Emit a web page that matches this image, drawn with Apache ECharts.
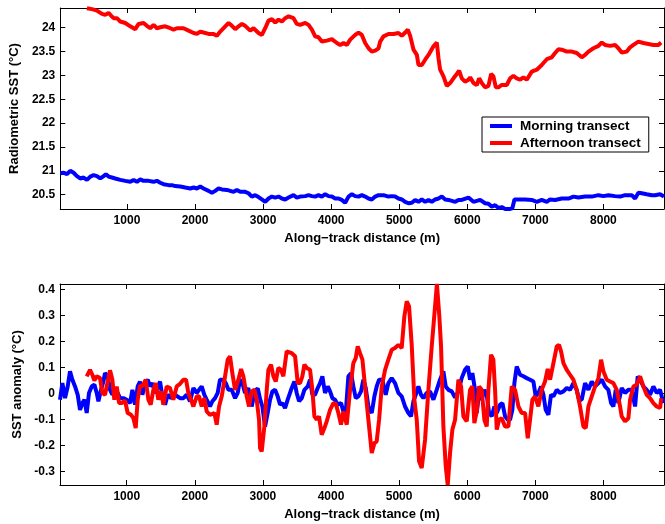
<!DOCTYPE html>
<html>
<head>
<meta charset="utf-8">
<script src="https://cdn.jsdelivr.net/npm/echarts@6/dist/echarts.min.js"></script>
<style>
html,body{margin:0;padding:0;background:#fff;}
#chart{width:665px;height:524px;}
</style>
</head>
<body>
<div id="chart"></div>
<script>
// ---------- tick labels ----------
const xTicks = [1000, 2000, 3000, 4000, 5000, 6000, 7000, 8000];
const topYTicks = [20.5, 21, 21.5, 22, 22.5, 23, 23.5, 24];
const bottomYTicks = [-0.3, -0.2, -0.1, 0, 0.1, 0.2, 0.3, 0.4];
const seriesNames = ['Morning transect', 'Afternoon transect'];

// ---------- top panel: radiometric SST ----------
const morningTopDist = [20,70,118,167,216,265,314,363,412,461,510,559,608,657,691,730,779,828,902,975,1049,1098,1147,1195,1244,1318,1391,1440,1489,1538,1612,1661,1709,1783,1856,1930,1979,2028,2077,2125,2199,2248,2297,2346,2395,2468,2517,2566,2615,2664,2737,2786,2835,2884,2933,2982,3031,3080,3129,3178,3227,3276,3325,3374,3447,3496,3545,3619,3668,3717,3765,3814,3863,3912,3961,4010,4059,4108,4157,4206,4255,4304,4353,4402,4451,4500,4549,4598,4647,4696,4769,4842,4891,4940,4989,5038,5087,5136,5185,5234,5283,5332,5381,5430,5479,5528,5577,5626,5675,5724,5773,5822,5871,5919,6017,6091,6189,6262,6311,6360,6409,6458,6507,6556,6629,6663,6693,6751,6849,6947,7021,7094,7168,7217,7290,7388,7486,7560,7633,7731,7829,7927,8000,8074,8171,8245,8318,8416,8465,8514,8563,8636,8710,8759,8832,8890];
const morningTopSST = [20.95,20.96,20.93,21.00,20.96,20.89,20.84,20.86,20.81,20.88,20.91,20.89,20.84,20.89,20.93,20.88,20.86,20.84,20.81,20.79,20.77,20.81,20.77,20.82,20.79,20.79,20.77,20.79,20.75,20.72,20.70,20.70,20.68,20.67,20.65,20.63,20.65,20.63,20.67,20.63,20.58,20.54,20.58,20.63,20.61,20.60,20.58,20.56,20.60,20.56,20.56,20.53,20.46,20.49,20.45,20.40,20.35,20.42,20.46,20.44,20.46,20.42,20.40,20.44,20.49,20.44,20.46,20.47,20.49,20.47,20.46,20.49,20.46,20.51,20.47,20.46,20.42,20.42,20.39,20.33,20.46,20.51,20.47,20.46,20.49,20.46,20.42,20.40,20.46,20.49,20.49,20.46,20.47,20.46,20.42,20.40,20.35,20.32,20.33,20.39,20.35,20.40,20.35,20.39,20.35,20.40,20.42,20.46,20.40,20.39,20.37,20.35,20.39,20.39,20.44,20.35,20.39,20.32,20.31,20.25,20.28,20.22,20.24,20.20,20.20,20.22,20.40,20.40,20.40,20.39,20.35,20.39,20.35,20.40,20.39,20.42,20.42,20.46,20.44,20.46,20.46,20.49,20.47,20.49,20.47,20.46,20.49,20.49,20.42,20.54,20.53,20.51,20.49,20.49,20.51,20.46];

const afternoonTopDist = [412,486,559,633,681,730,770,804,853,902,975,1049,1122,1171,1244,1293,1342,1391,1440,1489,1563,1636,1685,1734,1832,1905,1979,2028,2077,2125,2199,2272,2321,2370,2444,2493,2542,2591,2640,2689,2737,2811,2860,2933,2982,3031,3080,3129,3178,3227,3276,3325,3374,3447,3496,3545,3619,3668,3717,3765,3814,3863,3937,4010,4084,4133,4182,4231,4280,4353,4402,4451,4500,4549,4598,4647,4696,4720,4769,4842,4916,4989,5038,5087,5126,5161,5210,5259,5283,5332,5381,5430,5503,5552,5577,5601,5650,5699,5748,5797,5846,5880,5919,5968,6017,6042,6091,6140,6174,6213,6262,6311,6350,6384,6419,6458,6507,6580,6629,6678,6727,6776,6825,6874,6947,7021,7094,7168,7241,7290,7339,7388,7462,7535,7608,7682,7731,7780,7853,7927,7976,8024,8098,8171,8220,8269,8343,8392,8441,8514,8587,8661,8734,8808,8847];
const afternoonTopSST = [24.41,24.39,24.36,24.29,24.27,24.31,24.25,24.20,24.20,24.13,24.10,24.03,23.97,24.08,24.10,24.04,23.99,24.06,23.99,24.01,24.03,23.99,23.96,23.99,23.99,23.94,23.89,23.87,23.92,23.90,23.87,23.87,23.83,23.92,24.03,24.10,24.04,23.97,24.03,24.08,24.04,23.94,23.99,23.89,23.85,23.99,24.15,24.18,24.11,24.17,24.13,24.20,24.24,24.20,24.08,24.06,24.10,24.06,23.96,23.82,23.80,23.71,23.73,23.76,23.68,23.64,23.68,23.64,23.75,23.85,23.90,23.85,23.68,23.57,23.50,23.52,23.57,23.71,23.82,23.87,23.87,23.89,23.83,23.90,23.96,23.83,23.54,23.43,23.22,23.22,23.33,23.43,23.61,23.69,23.36,23.12,22.98,22.78,22.84,22.94,23.03,23.10,22.94,22.87,22.91,22.96,22.84,22.80,22.94,22.84,22.75,22.78,23.03,22.98,22.75,22.75,22.80,22.80,22.94,22.99,22.94,22.91,22.96,22.91,23.08,23.12,23.22,23.34,23.38,23.47,23.55,23.54,23.50,23.50,23.47,23.38,23.43,23.50,23.57,23.62,23.69,23.64,23.62,23.64,23.57,23.48,23.50,23.59,23.64,23.71,23.68,23.66,23.64,23.64,23.69];

// ---------- bottom panel: SST anomaly ----------
const morningAnomDist = [20,55,94,133,167,202,241,280,314,349,378,412,446,486,525,559,584,623,657,681,721,755,789,828,867,902,951,1000,1049,1083,1122,1161,1195,1230,1269,1308,1342,1377,1416,1455,1489,1524,1563,1602,1651,1709,1783,1832,1881,1930,1979,2028,2062,2101,2140,2174,2223,2258,2297,2336,2370,2419,2454,2493,2542,2591,2630,2664,2698,2737,2786,2835,2884,2924,2958,2992,3031,3070,3105,3139,3178,3217,3252,3286,3325,3364,3413,3462,3496,3531,3570,3609,3658,3692,3726,3765,3805,3839,3873,3912,3952,3986,4020,4059,4098,4147,4182,4216,4255,4294,4328,4363,4402,4441,4475,4510,4549,4598,4637,4671,4706,4754,4803,4842,4891,4940,4989,5038,5087,5136,5175,5210,5244,5283,5322,5357,5406,5455,5504,5552,5601,5650,5685,5724,5773,5822,5871,5919,5968,6008,6042,6076,6115,6140,6174,6213,6252,6287,6321,6360,6399,6434,6482,6517,6556,6595,6629,6663,6693,6727,6776,6825,6874,6923,6972,7006,7045,7085,7119,7153,7192,7231,7266,7315,7364,7413,7462,7510,7559,7608,7643,7682,7731,7780,7829,7878,7927,7976,8024,8073,8113,8147,8181,8220,8269,8318,8367,8416,8465,8504,8539,8587,8636,8685,8734,8783,8832,8881];
const morningAnom = [-0.023,0.041,-0.017,0.028,0.086,0.054,0.028,-0.004,-0.062,-0.036,-0.023,-0.074,0.003,0.028,0.035,0.003,-0.029,0.015,0.047,0.079,0.067,0.015,-0.004,0.015,0.003,-0.017,-0.017,-0.023,-0.036,0.015,-0.042,0.028,0.047,-0.004,0.041,0.054,0.028,0.041,0.003,0.022,0.047,-0.010,-0.042,-0.004,-0.017,-0.004,-0.017,-0.017,-0.004,-0.029,0.022,0.003,0.015,0.028,-0.004,-0.023,-0.049,-0.029,-0.017,0.003,0.054,0.054,0.041,0.015,0.015,-0.017,0.003,0.054,0.041,0.003,0.022,-0.049,0.012,0.020,-0.020,-0.049,-0.126,-0.074,-0.023,0.009,0.015,-0.010,-0.042,-0.036,-0.055,-0.023,0.015,0.047,0.003,-0.029,-0.017,0.015,0.028,0.054,-0.004,-0.004,0.022,0.041,0.067,0.003,0.028,0.009,-0.017,-0.023,-0.042,-0.036,-0.068,-0.074,0.067,0.079,0.028,-0.017,-0.010,0.009,0.054,0.022,-0.049,-0.074,-0.010,0.028,0.054,0.054,-0.004,0.041,0.060,0.041,0.003,-0.010,-0.049,-0.074,-0.087,-0.029,-0.004,0.028,-0.004,-0.017,0.003,0.009,-0.023,0.015,0.054,0.086,0.028,0.015,0.009,-0.015,0.009,0.060,0.092,0.105,0.054,0.079,0.015,-0.074,0.003,-0.023,0.015,-0.004,-0.074,-0.087,-0.049,-0.074,-0.042,-0.036,-0.087,-0.100,-0.100,-0.062,0.041,0.105,0.073,0.067,0.060,0.054,0.047,-0.010,0.003,0.028,-0.004,-0.062,-0.081,-0.004,-0.010,0.015,0.003,0.009,0.022,0.015,0.041,0.015,-0.023,-0.023,0.041,0.015,0.047,0.028,0.041,0.054,0.028,0.015,-0.036,-0.049,0.015,-0.036,0.022,0.003,0.015,0.015,-0.049,0.067,0.054,0.028,0.015,-0.004,0.028,0.003,0.015,-0.036];

const afternoonAnomDist = [412,461,495,525,559,608,642,681,721,755,789,818,853,887,926,975,1014,1063,1098,1132,1161,1195,1230,1279,1318,1352,1391,1426,1464,1504,1538,1587,1636,1685,1734,1783,1832,1871,1905,1944,1979,2028,2062,2101,2140,2174,2223,2287,2321,2356,2395,2444,2483,2517,2551,2591,2640,2679,2713,2762,2796,2835,2875,2909,2943,2958,2982,3021,3056,3080,3119,3154,3188,3227,3266,3300,3349,3423,3472,3511,3545,3579,3609,3643,3692,3726,3756,3790,3824,3863,3903,3937,3986,4035,4069,4108,4147,4182,4231,4280,4328,4363,4392,4426,4461,4500,4549,4598,4637,4671,4706,4745,4794,4842,4891,4940,4989,5038,5077,5112,5146,5185,5224,5259,5293,5332,5381,5430,5479,5528,5555,5590,5616,5650,5685,5714,5748,5782,5822,5871,5910,5944,5993,6042,6076,6105,6140,6174,6213,6252,6287,6311,6350,6384,6409,6434,6468,6507,6556,6605,6654,6703,6752,6801,6850,6889,6923,6957,6996,7045,7094,7143,7182,7217,7266,7315,7349,7378,7413,7462,7510,7559,7608,7657,7706,7741,7780,7829,7878,7927,7966,8000,8049,8098,8147,8196,8245,8269,8318,8367,8392,8441,8490,8539,8587,8636,8685,8734,8783,8832,8850];
const afternoonAnom = [0.067,0.092,0.073,0.051,0.067,0.060,0.003,-0.004,0.047,0.090,0.054,-0.023,0.028,-0.036,-0.036,-0.026,-0.074,-0.081,-0.094,-0.132,-0.023,0.031,0.028,0.054,-0.023,-0.042,0.015,0.041,-0.023,0.009,-0.042,0.028,0.022,-0.023,0.028,0.038,0.054,0.054,0.003,-0.023,-0.049,-0.010,-0.010,-0.049,-0.017,-0.068,-0.081,-0.074,-0.119,-0.049,-0.010,0.067,0.131,0.144,0.079,0.015,0.054,0.095,0.067,-0.010,-0.049,0.009,0.015,-0.023,-0.100,-0.209,-0.222,-0.126,0.015,0.092,0.112,0.067,0.047,0.099,0.092,0.067,0.163,0.156,0.144,0.041,0.041,0.067,0.112,0.099,0.092,0.015,-0.087,-0.100,-0.087,-0.158,-0.132,-0.106,-0.062,-0.036,-0.038,-0.074,-0.119,-0.068,-0.119,0.015,0.118,0.137,0.182,0.156,0.131,0.028,-0.100,-0.228,-0.190,-0.183,-0.100,0.028,0.092,0.131,0.169,0.176,0.188,0.176,0.297,0.355,0.336,0.188,-0.023,-0.100,-0.260,-0.286,-0.177,0.015,0.182,0.336,0.422,0.300,0.182,-0.126,-0.279,-0.351,-0.228,-0.138,-0.100,0.054,0.028,-0.087,-0.106,0.015,0.028,-0.113,-0.068,0.028,0.015,-0.100,-0.126,0.015,0.150,0.131,0.015,-0.138,-0.100,-0.094,-0.126,-0.126,0.028,0.015,-0.049,-0.074,-0.074,-0.171,-0.100,-0.023,-0.010,-0.049,0.015,0.047,0.095,0.054,0.118,0.182,0.188,0.163,0.118,0.092,0.073,0.054,0.015,-0.049,-0.126,-0.132,-0.049,-0.010,0.028,0.060,0.131,0.086,0.054,0.047,0.041,0.015,-0.049,-0.087,-0.106,-0.094,-0.023,0.028,0.035,0.067,0.028,-0.004,-0.017,-0.036,-0.049,-0.055,-0.017];

// ---------- helpers ----------
function zip(xs, ys) { return xs.map((x, i) => [x, ys[i]]); }
const FONT = '"Liberation Sans", Arial, Helvetica, sans-serif';
const lblStyle = { color: '#000', fontFamily: FONT, fontWeight: 'bold', fontSize: 12 };
const nameStyle = { color: '#000', fontFamily: FONT, fontWeight: 'bold', fontSize: 13 };
const axLine = { show: true, onZero: false, lineStyle: { color: '#000', width: 1 } };

function xAx(grid, pos, withLabels) {
  return {
    type: 'value', gridIndex: grid, position: pos, min: 20, max: 8890,
    axisLine: axLine,
    axisTick: { show: true, inside: true, length: 5, customValues: xTicks, lineStyle: { color: '#000' } },
    axisLabel: withLabels ? Object.assign({ show: true, margin: 6, customValues: xTicks,
      formatter: v => String(Math.round(v)) }, lblStyle) : { show: false },
    splitLine: { show: false },
    name: withLabels ? 'Along\u2212track distance (m)' : '',
    nameLocation: 'middle', nameGap: 23, nameTextStyle: nameStyle
  };
}
function yAx(grid, pos, min, max, ticks, title) {
  return {
    type: 'value', gridIndex: grid, position: pos, min: min, max: max,
    axisLine: axLine,
    axisTick: { show: true, inside: true, length: 5, customValues: ticks, lineStyle: { color: '#000' } },
    axisLabel: title ? Object.assign({ show: true, margin: 5, customValues: ticks,
      formatter: v => String(Math.round(v * 100) / 100) }, lblStyle) : { show: false },
    splitLine: { show: false },
    name: title || '', nameLocation: 'middle', nameGap: 36, nameTextStyle: nameStyle
  };
}
function lineSeries(name, color, xi, yi, data) {
  return {
    name: name, type: 'line', xAxisIndex: xi, yAxisIndex: yi, data: data,
    showSymbol: false, symbol: 'none', smooth: false, clip: true,
    lineStyle: { color: color, width: 4 }, itemStyle: { color: color },
    animation: false
  };
}

const chart = echarts.init(document.getElementById('chart'), null, { renderer: 'canvas' });
chart.setOption({
  backgroundColor: '#fff',
  animation: false,
  grid: [
    { left: 60, right: 1, top: 8, height: 201 },
    { left: 60, right: 1, top: 284, height: 201 }
  ],
  xAxis: [ xAx(0, 'bottom', true), xAx(0, 'top', false), xAx(1, 'bottom', true), xAx(1, 'top', false) ],
  yAxis: [
    yAx(0, 'left', 20.2, 24.414, topYTicks, 'Radiometric SST (\u00B0C)'),
    yAx(0, 'right', 20.2, 24.414, topYTicks, null),
    yAx(1, 'left', -0.351, 0.422, bottomYTicks, 'SST anomaly (\u00B0C)'),
    yAx(1, 'right', -0.351, 0.422, bottomYTicks, null)
  ],
  legend: {
    data: seriesNames, orient: 'vertical', left: 482, top: 117,
    backgroundColor: '#fff', borderColor: '#000', borderWidth: 1,
    padding: [1, 8, 1, 8], itemGap: 1, itemWidth: 22, itemHeight: 4, icon: 'rect',
    textStyle: { color: '#000', fontFamily: FONT, fontWeight: 'bold', fontSize: 13.5, lineHeight: 16, padding: [0, 0, 0, 3] }
  },
  series: [
    lineSeries(seriesNames[0], '#0000ff', 0, 0, zip(morningTopDist, morningTopSST)),
    lineSeries(seriesNames[1], '#ff0000', 0, 0, zip(afternoonTopDist, afternoonTopSST)),
    lineSeries(seriesNames[0], '#0000ff', 2, 2, zip(morningAnomDist, morningAnom)),
    lineSeries(seriesNames[1], '#ff0000', 2, 2, zip(afternoonAnomDist, afternoonAnom))
  ]
});
</script>
</body>
</html>
